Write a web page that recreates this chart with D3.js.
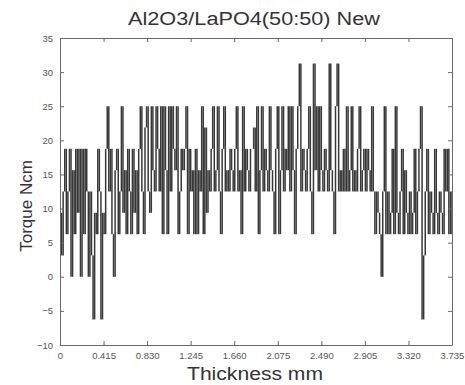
<!DOCTYPE html>
<html>
<head>
<meta charset="utf-8">
<script src="https://cdn.jsdelivr.net/npm/d3@7"></script>
<style>
  html, body { margin: 0; padding: 0; background: #fff; }
  svg { display: block; font-family: "Liberation Sans", Arial, sans-serif; }
  .tick text { fill: #555; font-size: 9.5px; }
  .tick line, .domain { stroke: #6a6a6a; }
</style>
</head>
<body>
<svg id="chart" width="465" height="385"></svg>
<script>
// sample spacing along thickness (mm)
const thicknessStep = 0.015;

// torque readings (Ncm) left to right
const torqueA = [9.375, 3.125, 12.5, 18.75, 6.25, 12.5, 18.75, 0, 15.625, 6.25,
  18.75, 9.375, 18.75, 0, 18.75, 6.25, 18.75, 12.5, 0, 12.5,
  3.125, -6.25, 9.375, 6.25, 18.75, 12.5, -6.25, 9.375, 6.25, 18.75,
  25, 12.5, 18.75, 6.25, 0, 15.625, 18.75, 6.25, 12.5, 25,
  9.375, 15.625, 6.25, 18.75, 12.5, 6.25, 18.75, 9.375, 15.625, 6.25];
const torqueB = [18.75, 25, 12.5, 6.25, 21.875, 25, 12.5, 9.375, 25, 15.625,
  12.5, 25, 18.75, 12.5, 25, 6.25, 25, 15.625, 6.25, 25,
  12.5, 25, 18.75, 15.625, 25, 6.25, 12.5, 18.75, 15.625, 18.75,
  25, 6.25, 18.75, 12.5, 15.625, 6.25, 18.75, 6.25, 15.625, 12.5,
  25, 6.25, 21.875, 9.375, 15.625, 12.5, 18.75, 25, 12.5, 15.625];
const torqueC = [25, 12.5, 6.25, 18.75, 25, 12.5, 15.625, 12.5, 18.75, 15.625,
  12.5, 18.75, 25, 12.5, 15.625, 6.25, 25, 12.5, 18.75, 15.625,
  12.5, 18.75, 18.75, 21.875, 12.5, 25, 6.25, 15.625, 25, 12.5,
  18.75, 15.625, 12.5, 25, 15.625, 12.5, 6.25, 18.75, 25, 6.25,
  15.625, 25, 12.5, 18.75, 15.625, 25, 12.5, 25, 15.625, 6.25];
const torqueD = [18.75, 25, 31.25, 12.5, 18.75, 15.625, 12.5, 18.75, 25, 12.5,
  6.25, 31.25, 15.625, 25, 12.5, 25, 15.625, 12.5, 18.75, 15.625,
  12.5, 31.25, 15.625, 12.5, 6.25, 25, 31.25, 12.5, 15.625, 12.5,
  18.75, 12.5, 25, 12.5, 15.625, 25, 12.5, 15.625, 12.5, 18.75,
  25, 12.5, 15.625, 18.75, 12.5, 18.75, 15.625, 12.5, 25, 12.5];
const torqueE = [6.25, 12.5, 9.375, 6.25, 0, 12.5, 25, 6.25, 12.5, 6.25,
  9.375, 18.75, 6.25, 25, 9.375, 6.25, 12.5, 18.75, 6.25, 15.625,
  9.375, 6.25, 12.5, 6.25, 9.375, 18.75, 6.25, 12.5, 18.75, 25,
  -6.25, 3.125, 12.5, 18.75, 6.25, 12.5, 9.375, 6.25, 18.75, 9.375,
  6.25, 12.5, 9.375, 6.25, 18.75, 12.5, 18.75, 6.25, 12.5, 6.25];

const xTicks = [0, 0.415, 0.830, 1.245, 1.660, 2.075, 2.490, 2.905, 3.320, 3.735];
const xTickLabels = ['0', '0.415', '0.830', '1.245', '1.660', '2.075', '2.490', '2.905', '3.320', '3.735'];
const yTicks = [-10, -5, 0, 5, 10, 15, 20, 25, 30, 35];

const torque = [].concat(torqueA, torqueB, torqueC, torqueD, torqueE);
// every reading gives one vertical stroke from the previous reading to itself
const strokes = torque.map((v, i) => ({ t: i * thicknessStep, from: i ? torque[i - 1] : v, to: v }));

const margin = { left: 60, right: 13, top: 38, bottom: 40 };
const width = 465, height = 385;
const svg = d3.select('#chart');

const x = d3.scaleLinear().domain([0, 3.735]).range([margin.left, width - margin.right]);
const y = d3.scaleLinear().domain([-10, 35]).range([height - margin.bottom, margin.top]);

// trace
svg.append('g')
  .selectAll('line')
  .data(strokes)
  .join('line')
  .attr('x1', d => x(d.t)).attr('x2', d => x(d.t))
  .attr('y1', d => y(d.from)).attr('y2', d => y(d.to))
  .attr('stroke', '#383838')
  .attr('stroke-width', 1.5);

// axes, ticks pointing inward like matlab
svg.append('g')
  .attr('transform', `translate(0,${height - margin.bottom})`)
  .call(d3.axisBottom(x).tickValues(xTicks).tickFormat((d, i) => xTickLabels[i])
    .tickSizeInner(-4).tickSizeOuter(0).tickPadding(7));
svg.append('g')
  .attr('transform', `translate(0,${margin.top})`)
  .call(d3.axisTop(x).tickValues(xTicks).tickFormat('').tickSizeInner(-4).tickSizeOuter(0));
svg.append('g')
  .attr('transform', `translate(${margin.left},0)`)
  .call(d3.axisLeft(y).tickValues(yTicks).tickSizeInner(-4).tickSizeOuter(0).tickPadding(7));
svg.append('g')
  .attr('transform', `translate(${width - margin.right},0)`)
  .call(d3.axisRight(y).tickValues(yTicks).tickFormat('').tickSizeInner(-4).tickSizeOuter(0));

// title and labels
svg.append('text')
  .attr('x', 254).attr('y', 25)
  .attr('text-anchor', 'middle')
  .attr('font-size', 18)
  .attr('fill', '#333')
  .attr('textLength', 252).attr('lengthAdjust', 'spacingAndGlyphs')
  .text('Al2O3/LaPO4(50:50) New');
svg.append('text')
  .attr('x', 255).attr('y', 380)
  .attr('text-anchor', 'middle')
  .attr('font-size', 17.5)
  .attr('fill', '#333')
  .attr('textLength', 136).attr('lengthAdjust', 'spacingAndGlyphs')
  .text('Thickness mm');
svg.append('text')
  .attr('transform', 'translate(32,206) rotate(-90)')
  .attr('text-anchor', 'middle')
  .attr('font-size', 17)
  .attr('fill', '#333')
  .text('Torque Ncm');
</script>
</body>
</html>
